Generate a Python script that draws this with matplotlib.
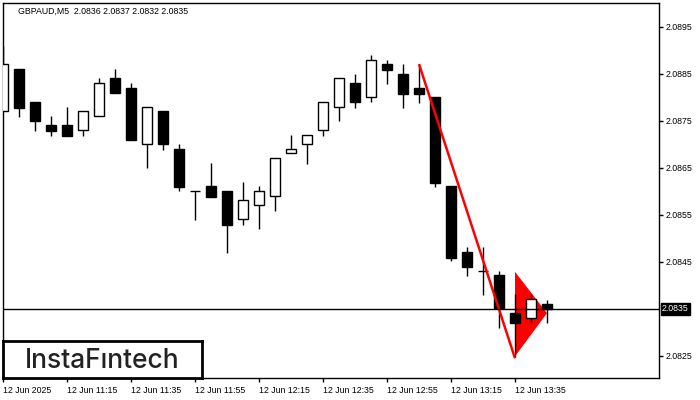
import matplotlib
matplotlib.use("Agg")
import matplotlib.pyplot as plt
from matplotlib.patches import Rectangle

# ---- data (GBPAUD M5, bars from 10:55) ----
opens = [2.08771, 2.08861, 2.08790, 2.08741, 2.08741, 2.08730, 2.08760, 2.08841,
         2.08820, 2.08700, 2.08771, 2.08690, 2.08600, 2.08612, 2.08601, 2.08541,
         2.08571, 2.08590, 2.08681, 2.08700, 2.08730, 2.08779, 2.08831, 2.08800,
         2.08871, 2.08850, 2.08820, 2.08801, 2.08612, 2.08471, 2.08431, 2.08422,
         2.08341, 2.08330, 2.08360]
highs = [2.08910, 2.08861, 2.08790, 2.08761, 2.08780, 2.08771, 2.08841, 2.08861,
         2.08831, 2.08779, 2.08771, 2.08701, 2.08601, 2.08661, 2.08601, 2.08620,
         2.08612, 2.08671, 2.08720, 2.08720, 2.08790, 2.08841, 2.08850, 2.08890,
         2.08880, 2.08871, 2.08871, 2.08801, 2.08612, 2.08482, 2.08482, 2.08431,
         2.08381, 2.08382, 2.08370]
lows = [2.08771, 2.08759, 2.08729, 2.08719, 2.08719, 2.08719, 2.08760, 2.08809,
        2.08710, 2.08649, 2.08689, 2.08600, 2.08539, 2.08589, 2.08470, 2.08529,
        2.08521, 2.08559, 2.08681, 2.08659, 2.08719, 2.08749, 2.08778, 2.08790,
        2.08829, 2.08778, 2.08789, 2.08610, 2.08451, 2.08421, 2.08380, 2.08310,
        2.08248, 2.08321, 2.08320]
closes = [2.08871, 2.08778, 2.08749, 2.08729, 2.08719, 2.08771, 2.08830, 2.08809,
          2.08710, 2.08779, 2.08700, 2.08610, 2.08600, 2.08589, 2.08529, 2.08581,
          2.08601, 2.08671, 2.08690, 2.08720, 2.08790, 2.08841, 2.08790, 2.08879,
          2.08859, 2.08808, 2.08808, 2.08619, 2.08459, 2.08440, 2.08431, 2.08351,
          2.08321, 2.08371, 2.08350]

x_tick_idx = [0, 4, 8, 12, 16, 20, 24, 28, 32]
x_tick_labels = ["12 Jun 2025", "12 Jun 11:15", "12 Jun 11:35", "12 Jun 11:55",
                 "12 Jun 12:15", "12 Jun 12:35", "12 Jun 12:55", "12 Jun 13:15",
                 "12 Jun 13:35"]
y_ticks = [2.0825, 2.0845, 2.0855, 2.0865, 2.0875, 2.0885, 2.0895]
current_price = 2.0835
title_text = "GBPAUD,M5  2.0836 2.0837 2.0832 2.0835"

# pennant pattern: pole (bar index, price) and flag triangle
pole_x = [26, 32]
pole_y = [2.08871, 2.08245]
flag_x = [32, 32, 34]
flag_y = [2.08429, 2.08249, 2.08341]

FONT = "Liberation Sans"
FS = 6.3

fig = plt.figure(figsize=(7, 4), dpi=100)
ax = fig.add_axes([3 / 700, 1 - 378 / 400, 656 / 700, 375 / 400])
ax.set_xlim(0, 41)
ax.set_ylim(2.08203, 2.09001)

# flag triangle (behind candles)
ax.fill(flag_x, flag_y, color="#ff0000", zorder=1, linewidth=0)

w = 0.33
for i, (o, h, l, c) in enumerate(zip(opens, highs, lows, closes)):
    ax.vlines(i, l, h, color="black", linewidth=1.0, zorder=2)
    bottom = min(o, c)
    height = abs(c - o)
    face = "white" if c > o else "black"
    ax.add_patch(Rectangle((i - w, bottom), 2 * w, height, facecolor=face,
                           edgecolor="black", linewidth=1.0, zorder=3))

# pole line (over candles)
ax.plot(pole_x, pole_y, color="#ff0000", linewidth=1.8, zorder=4,
        solid_capstyle="butt")

# current price line
ax.axhline(current_price, color="black", linewidth=1.0, zorder=5)

# axes styling
for side in ["left", "right", "top", "bottom"]:
    ax.spines[side].set_linewidth(1.0)
    ax.spines[side].set_color("black")
ax.yaxis.tick_right()
ax.set_yticks(y_ticks)
ax.set_yticklabels([f"{v:.4f}" for v in y_ticks], fontsize=FS, family=FONT)
ax.tick_params(axis="y", direction="out", length=3, width=1, pad=2,
               colors="black")
ax.set_xticks(x_tick_idx)
ax.set_xticklabels(x_tick_labels, fontsize=FS, family=FONT, ha="left")
ax.tick_params(axis="x", direction="out", length=3, width=1, pad=3)
for lab in ax.get_xticklabels():
    lab.set_horizontalalignment("left")

# current price label box
ax.text(1.0 + 3 / 656, current_price, f"{current_price:.4f}",
        transform=ax.get_yaxis_transform(), fontsize=FS, family=FONT,
        color="white", va="center", ha="left",
        bbox=dict(boxstyle="square,pad=0.15", facecolor="black",
                  edgecolor="black"), zorder=10, clip_on=False)

# title
fig.text(18 / 700, 1 - 11 / 400, title_text, fontsize=FS, family=FONT,
         va="center", ha="left", color="black")

# logo
logo_ax = fig.add_axes([3 / 700, 1 - 378 / 400, 199 / 700, 37 / 400])
logo_ax.set_xticks([])
logo_ax.set_yticks([])
logo_ax.set_facecolor("white")
for s in logo_ax.spines.values():
    s.set_linewidth(2.0)
    s.set_color("black")
logo_ax.text(0.5, 0.45, "InstaF\u0131ntech", fontsize=19, family="Inter",
             fontweight="medium", color="#222222", ha="center", va="center",
             transform=logo_ax.transAxes)

fig.savefig("out.png", dpi=100)
